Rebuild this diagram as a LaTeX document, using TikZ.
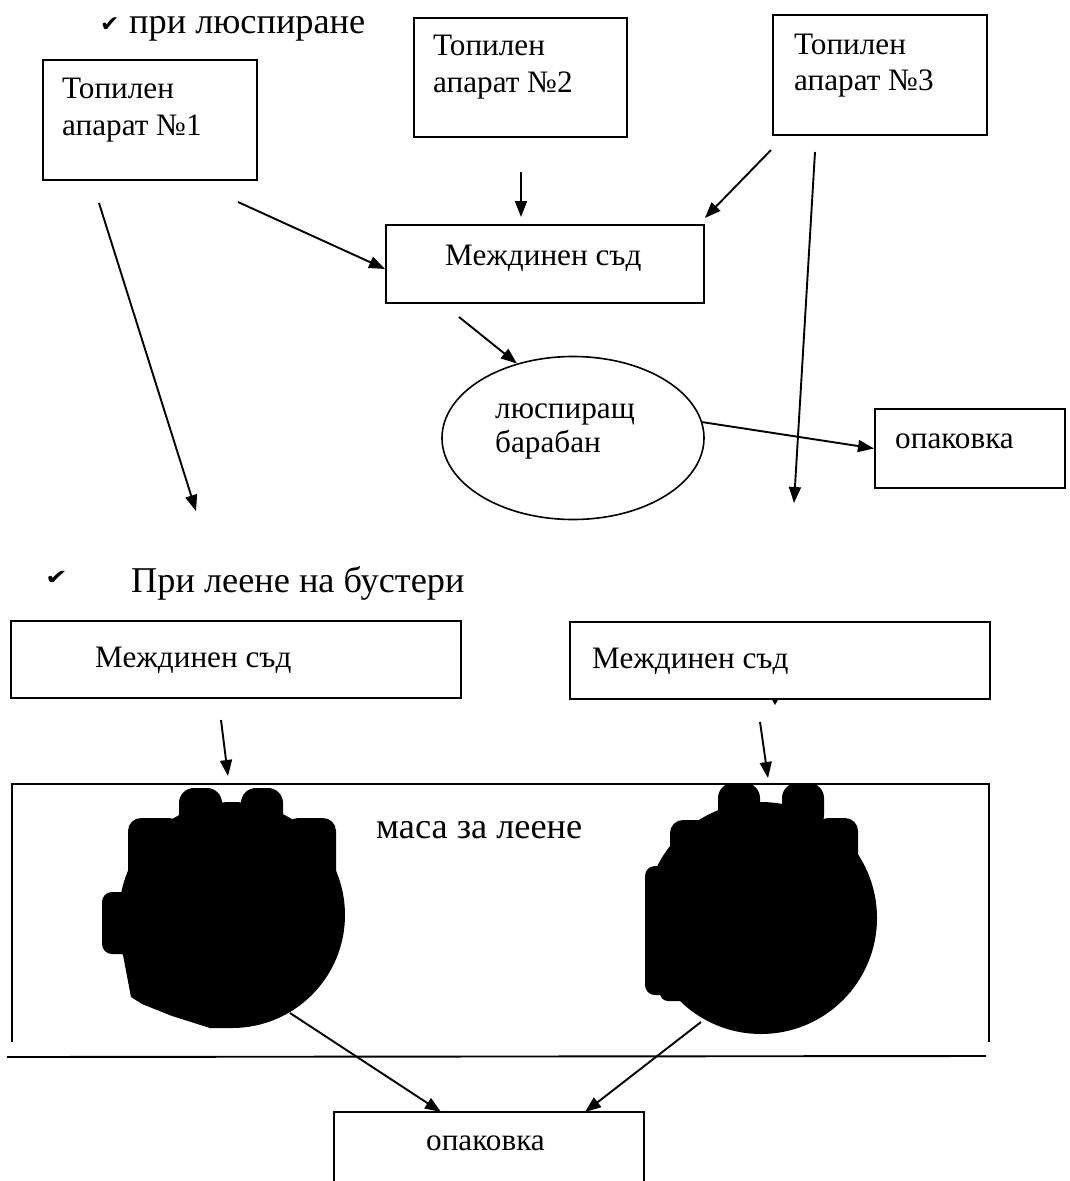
\documentclass[tikz,border=0pt]{standalone}
\usepackage{graphicx}
\usepackage{fontspec}
\setmainfont{Liberation Serif}
\newfontfamily\symfont{DejaVu Sans}
\usetikzlibrary{arrows.meta,calc,shapes.geometric}
\begin{document}
\begin{tikzpicture}[x=1pt,y=-1pt,
  box/.style={draw,line width=1.9pt,inner sep=0pt,anchor=north west},
  frame/.style={inner sep=0pt,anchor=north west},
  edge/.style={line width=1.9pt},
  txt/.style={anchor=base west,inner sep=0pt,font=\fontsize{31.2}{37}\selectfont},
  head/.style={anchor=base west,inner sep=0pt,font=\fontsize{36.3}{43}\selectfont},
  chk/.style={anchor=base west,inner sep=0pt},
  arr/.style={line width=1.9pt,-{Triangle[length=16pt,width=12pt]}},
  blob/.style={fill=black}]
\useasboundingbox[fill=white] (0,0) rectangle (1070,1181);

% ---------- upper part ----------
\node[chk,font=\symfont\fontsize{22}{26}\selectfont] (chk1) at (100,31) {\scalebox{1.05}[1]{✔}};
\node[head] (h1) at (129,33) {при люспиране};

\node[box,minimum width=214pt,minimum height=120pt] (b1) at (42,59) {};
\node[txt] (b1a) at (62,98) {Топилен};
\node[txt] (b1b) at (62,135) {апарат №1};

\node[box,minimum width=213pt,minimum height=119pt] (b2) at (413,17) {};
\node[txt] (b2a) at (433,55) {Топилен};
\node[txt] (b2b) at (433,92) {апарат №2};

\node[box,minimum width=214pt,minimum height=120pt] (b3) at (772,14) {};
\node[txt] (b3a) at (794,54) {Топилен};
\node[txt] (b3b) at (794,90) {апарат №3};

\node[box,minimum width=318pt,minimum height=78pt] (mid) at (385,224) {};
\node[txt] (midt) at (445,265) {Междинен съд};

\node[draw,ellipse,line width=1.6pt,minimum width=262pt,minimum height=163pt,inner sep=0pt] (drum) at (573,438) {};
\node[txt] (drumA) at (495,418) {люспиращ};
\node[txt] (drumB) at (495,452) {барабан};

\node[box,minimum width=190pt,minimum height=79pt] (pk1) at (874,408) {};
\node[txt] (pk1t) at (895,448) {опаковка};

\coordinate (a1s) at (238,202);
\coordinate (a2s) at (521,172);
\coordinate (a2e) at (521,217);
\coordinate (a3s) at (771,150);
\coordinate (a4s) at (815,152);
\coordinate (a4e) at (794,503);
\coordinate (a5s) at (99,203);
\coordinate (a5e) at (196,511);
\coordinate (a6s) at (459,317);

\draw[arr] (a1s) -- ($(mid.west)+(0,5)$);
\draw[arr] (a2s) -- (a2e);
\draw[arr] (a3s) -- ($(mid.north east)+(0,-6)$);
\draw[arr] (a4s) -- (a4e);
\draw[arr] (a5s) -- (a5e);
\draw[arr] (a6s) -- (drum.127);
\draw[arr] (drum.7) -- (pk1.west);

% ---------- lower part ----------
\node[chk,font=\symfont\fontsize{21}{25}\selectfont] (chk2) at (45,584) {\scalebox{1.3}[1]{✔}};
\node[head] (h2) at (131,592) {При леене на бустери};

\node[box,minimum width=450pt,minimum height=77pt] (m2) at (10,620) {};
\node[txt] (m2t) at (95,667) {Междинен съд};

\node[box,minimum width=420pt,minimum height=77pt] (m3) at (569,621) {};
\node[txt] (m3t) at (592,668) {Междинен съд};
\fill (771,698) -- (779,698) -- (775,705) -- cycle;

% casting table (open at the bottom)
\node[frame,minimum width=977pt,minimum height=258pt] (tbl) at (12,784) {};
\draw[edge] (tbl.south west) -- (tbl.north west) -- (tbl.north east) -- (tbl.south east);
\coordinate (fl1) at (7,1057);
\coordinate (fl2) at (986,1056);
\draw[edge] (fl1) -- (fl2);
\node[head] (tblt) at (376,838) {маса за леене};

% mould 1
\fill (232,915) circle[radius=113];
\fill[rounded corners=15pt] (179,788) rectangle (222,840);
\fill[rounded corners=15pt] (241,788) rectangle (283,840);
\fill[rounded corners=13pt] (128,818) rectangle (182,885);
\fill[rounded corners=13pt] (285,818) rectangle (336,885);
\fill[rounded corners=10pt] (102,892) rectangle (150,954);
\fill (115,945) -- (123,955) -- (131,997) -- (142,1004) -- (172,1016) -- (210,1028) -- (232,1028) -- (232,915) -- cycle;

% mould 2
\fill (761,918) circle[radius=116];
\fill[rounded corners=15pt] (718,783) rectangle (760,830);
\fill[rounded corners=15pt] (782,783) rectangle (824,830);
\fill[rounded corners=13pt] (670,820) rectangle (722,880);
\fill[rounded corners=13pt] (815,818) rectangle (858,880);
\fill[rounded corners=10pt] (645,866) rectangle (700,995);
\fill[rounded corners=8pt] (660,955) rectangle (705,1001);

% bottom packing box (open at the bottom)
\node[frame,minimum width=310pt,minimum height=72pt] (pk2) at (334,1112) {};
\draw[edge] (pk2.south west) -- (pk2.north west) -- (pk2.north east) -- (pk2.south east);
\node[txt] (pk2t) at (426,1150) {опаковка};

\coordinate (a8s) at (221,720);
\coordinate (a8e) at (228,776);
\coordinate (a9s) at (760,722);
\coordinate (a9e) at (768,778);
\coordinate (a10s) at (290,1013);
\coordinate (a11s) at (701,1022);

\draw[arr] (a8s) -- (a8e);
\draw[arr] (a9s) -- (a9e);
\draw[arr] (a10s) -- ($(pk2.north west)+(107,0)$);
\draw[arr] (a11s) -- ($(pk2.north west)+(251,0)$);
\end{tikzpicture}
\end{document}
